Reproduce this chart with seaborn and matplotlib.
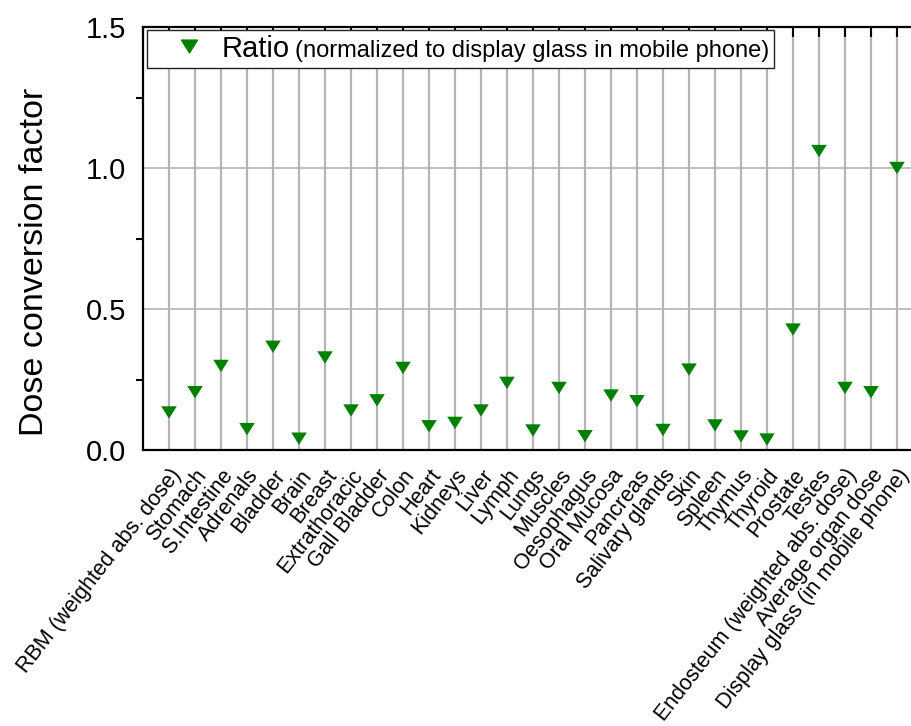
import seaborn as sns
import matplotlib.pyplot as plt
import pandas as pd
import numpy as np
from matplotlib.path import Path
from matplotlib.lines import Line2D
from matplotlib.ticker import MultipleLocator, FormatStrFormatter
from matplotlib.offsetbox import AnchoredOffsetbox, HPacker, TextArea, DrawingArea

organs = ['RBM (weighted abs. dose)', 'Stomach', 'S.Intestine', 'Adrenals', 'Bladder',
          'Brain', 'Breast', 'Extrathoracic', 'Gall Bladder', 'Colon', 'Heart', 'Kidneys',
          'Liver', 'Lymph', 'Lungs', 'Muscles', 'Oesophagus', 'Oral Mucosa', 'Pancreas',
          'Salivary glands', 'Skin', 'Spleen', 'Thymus', 'Thyroid', 'Prostate', 'Testes',
          'Endosteum (weighted abs. dose)', 'Average organ dose', 'Display glass (in mobile phone)']
ratio = [0.133, 0.205, 0.298, 0.074, 0.366, 0.040, 0.328, 0.140, 0.176, 0.291, 0.084, 0.096,
         0.140, 0.238, 0.069, 0.220, 0.049, 0.193, 0.173, 0.071, 0.285, 0.087, 0.048, 0.037,
         0.427, 1.060, 0.220, 0.205, 1.0]

sns.set_style("white")
plt.rcParams['font.family'] = ['Liberation Sans', 'DejaVu Sans']
for k in ['text.color', 'axes.labelcolor', 'xtick.color', 'ytick.color']:
    plt.rcParams[k] = 'black'

df = pd.DataFrame({'organ': organs, 'ratio': ratio})
# squat down triangle like the original
tri = Path([(-1, 0.8), (1, 0.8), (0, -0.8), (-1, 0.8)], closed=True)

fig = plt.figure(figsize=(9.12, 7.26), dpi=100)
ax = fig.add_axes([143 / 912, 1 - 450 / 726, 769.6 / 912, 423 / 726])

n = len(organs)
ax.set_xlim(-1, n - 0.4)
ax.set_ylim(0, 1.5)
for i in range(n):
    ax.axvline(i, color='#b4b4b4', lw=1.6, zorder=0)
for yv in [0.5, 1.0]:
    ax.axhline(yv, color='#b4b4b4', lw=1.2, zorder=0)

sns.scatterplot(data=df, x='organ', y='ratio', marker=tri, s=125, color='green',
                edgecolor='none', ax=ax, zorder=3, clip_on=False)

ax.set_xticks(np.arange(-1, n))
ax.set_xticklabels([''] + organs, rotation=52, ha='right', rotation_mode='anchor', fontsize=15.5)
ax.tick_params(axis='x', direction='out', length=7, width=1.5, top=True, pad=4)
ax.set_xlabel('')
ax.yaxis.set_major_locator(MultipleLocator(0.5))
ax.yaxis.set_minor_locator(MultipleLocator(0.25))
ax.yaxis.set_major_formatter(FormatStrFormatter('%.1f'))
ax.tick_params(axis='y', which='major', direction='out', length=9, width=1.5, pad=3, labelsize=21)
ax.tick_params(axis='y', which='minor', direction='out', length=5, width=1.5, left=True)
ax.set_ylabel('Dose conversion factor', fontsize=24.5)
ax.yaxis.set_label_coords(-0.121, 0.444)

# top ticks point inward
for t in ax.xaxis.get_major_ticks():
    t.tick2line.set_marker(3)
    t.tick2line.set_markersize(7)
    t.tick2line.set_markeredgewidth(1.5)

for side in ['left', 'bottom', 'top']:
    ax.spines[side].set_linewidth(1.6)
    ax.spines[side].set_color('black')
ax.spines['right'].set_visible(False)

# legend with mixed font sizes
da = DrawingArea(46, 12, 0, 0)
da.add_artist(Line2D([27], [8], marker=tri, markersize=11.5, color='green', linestyle='none'))
box = HPacker(children=[da,
                        TextArea('Ratio', textprops=dict(fontsize=21)),
                        TextArea('(normalized to display glass in mobile phone)', textprops=dict(fontsize=17))],
              align='baseline', pad=0, sep=4)
leg = AnchoredOffsetbox(loc='upper left', child=box, pad=0.35, borderpad=0, frameon=True,
                        bbox_to_anchor=(0.005, 0.993), bbox_transform=ax.transAxes)
leg.patch.set_edgecolor('#222222')
leg.patch.set_linewidth(1)
leg.patch.set_boxstyle('square', pad=0)
ax.add_artist(leg)

fig.savefig('out.png', dpi=100)
